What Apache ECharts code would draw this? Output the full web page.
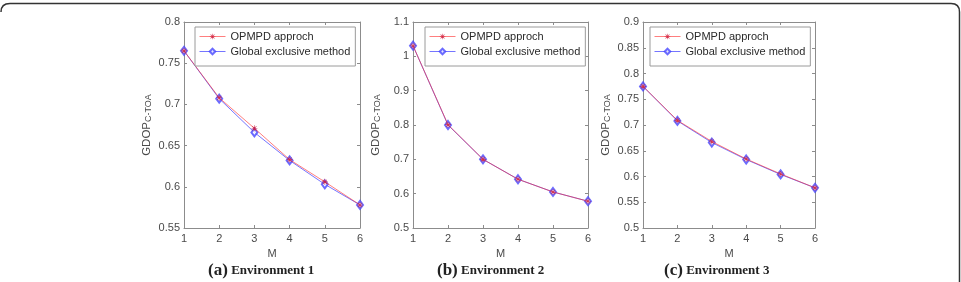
<!DOCTYPE html>
<html>
<head>
<meta charset="utf-8">
<script src="https://cdn.jsdelivr.net/npm/echarts@6/dist/echarts.min.js"></script>
<style>
  html, body { margin: 0; padding: 0; background: #fff; }
  #main { width: 961px; height: 282px; }
</style>
</head>
<body>
<div id="main"></div>
<script>
// M values (x axis)
const mValues = [1, 2, 3, 4, 5, 6];

// environment 1
const env1Opmpd = [0.765, 0.708, 0.671, 0.633, 0.606, 0.578];
const env1Global = [0.765, 0.707, 0.666, 0.632, 0.603, 0.578];
// environment 2
const env2Opmpd = [1.031, 0.801, 0.700, 0.642, 0.605, 0.578];
const env2Global = [1.031, 0.800, 0.700, 0.642, 0.605, 0.578];
// environment 3
const env3Opmpd = [0.775, 0.709, 0.668, 0.634, 0.605, 0.578];
const env3Global = [0.775, 0.708, 0.666, 0.633, 0.604, 0.578];

const seriesNames = ['OPMPD approch', 'Global exclusive method'];
const captions = ['(a)', '(b)', '(c)'];
const envNames = ['Environment 1', 'Environment 2', 'Environment 3'];

// y ranges for each panel
const yMin = [0.55, 0.5, 0.5];
const yMax = [0.8, 1.1, 0.9];
const yStep = [0.05, 0.1, 0.05];

const panels = [
  { left: 184, width: 176, legendLeft: 195, capX: 265 },
  { left: 413, width: 175, legendLeft: 425, capX: 494 },
  { left: 643, width: 172, legendLeft: 650, capX: 721 }
];
const opmpd = [env1Opmpd, env2Opmpd, env3Opmpd];
const globalEx = [env1Global, env2Global, env3Global];

const font = '"Liberation Sans", Arial, sans-serif';
const serif = '"Liberation Serif", "Times New Roman", serif';
const axisColor = '#8c8c8c';
const labelColor = '#4a4a4a';
const asterisk = 'path://M4.5,0h1v10h-1z M0,4.5h10v1h-10z M1.2,1.9l0.7,-0.7l7,7l-0.7,0.7z M8.1,1.2l0.7,0.7l-7,7l-0.7,-0.7z';

function fmt(v) { return String(parseFloat(v.toFixed(2))); }

const grid = [], xAxis = [], yAxis = [], series = [], legend = [], graphic = [];

panels.forEach(function (p, i) {
  grid.push({ left: p.left, top: 22, width: p.width, height: 206 });

  const tick = { show: true, inside: true, length: 3, lineStyle: { color: axisColor } };
  const line = { show: true, lineStyle: { color: axisColor, width: 1 } };

  xAxis.push({
    type: 'value', gridIndex: i, min: 1, max: 6, interval: 1,
    axisLine: line, axisTick: tick, splitLine: { show: false },
    axisLabel: { margin: 5, color: labelColor, fontSize: 11, fontFamily: font },
    name: 'M', nameLocation: 'middle', nameGap: 19,
    nameTextStyle: { color: labelColor, fontSize: 11, fontFamily: font }
  });
  xAxis.push({
    type: 'value', gridIndex: i, min: 1, max: 6, interval: 1, position: 'top',
    axisLine: line, axisTick: tick, splitLine: { show: false }, axisLabel: { show: false }
  });

  yAxis.push({
    type: 'value', gridIndex: i, min: yMin[i], max: yMax[i], interval: yStep[i],
    axisLine: line, axisTick: tick, splitLine: { show: false },
    axisLabel: { margin: 4, color: labelColor, fontSize: 11, fontFamily: font, formatter: fmt },
    name: '{a|GDOP}{b|C-TOA}', nameLocation: 'middle', nameRotate: 90, nameGap: 31,
    nameTextStyle: {
      color: labelColor, fontFamily: font,
      rich: {
        a: { fontSize: 11.5, fontFamily: font, color: labelColor, verticalAlign: 'top', lineHeight: 12 },
        b: { fontSize: 9, fontFamily: font, color: labelColor, verticalAlign: 'bottom', lineHeight: 10, padding: [6, 0, 0, 0] }
      }
    }
  });
  yAxis.push({
    type: 'value', gridIndex: i, min: yMin[i], max: yMax[i], interval: yStep[i], position: 'right',
    axisLine: line, axisTick: tick, splitLine: { show: false }, axisLabel: { show: false }
  });

  series.push({
    name: seriesNames[1], type: 'line', xAxisIndex: i * 2, yAxisIndex: i * 2,
    data: mValues.map(function (m, k) { return [m, globalEx[i][k]]; }),
    symbol: 'emptyDiamond', symbolSize: [6, 8], showSymbol: true,
    lineStyle: { color: '#3b3bff', width: 1, opacity: 0.7 },
    itemStyle: { color: '#4646ff', borderColor: '#4646ff', borderWidth: 1, opacity: 0.8 },
    emphasis: { disabled: true }, animation: false, z: 2
  });
  series.push({
    name: seriesNames[0], type: 'line', xAxisIndex: i * 2, yAxisIndex: i * 2,
    data: mValues.map(function (m, k) { return [m, opmpd[i][k]]; }),
    symbol: asterisk, symbolSize: 6, showSymbol: true,
    lineStyle: { color: '#ff2a2a', width: 1, opacity: 0.6 },
    itemStyle: { color: '#cc1a3a', opacity: 0.85 },
    emphasis: { disabled: true }, animation: false, z: 3
  });

  legend.push({
    data: seriesNames, orient: 'vertical', left: p.legendLeft, top: 27,
    backgroundColor: '#fff', borderColor: '#9a9a9a', borderWidth: 1,
    padding: [4, 5, 9, 4], itemGap: 4, itemWidth: 26, itemHeight: 7,
    lineStyle: { width: 1 },
    itemStyle: { borderWidth: 1 },
    textStyle: { fontSize: 11, color: '#2a2a2a', fontFamily: font },
    selectedMode: false
  });

  graphic.push({
    type: 'text', left: p.capX - 57, top: 262,
    style: {
      text: '{p|' + captions[i] + '} {e|' + envNames[i] + '}',
      rich: {
        p: { fontSize: 17, fontWeight: 'bold', fontFamily: serif, fill: '#222' },
        e: { fontSize: 13, fontWeight: 'bold', fontFamily: serif, fill: '#222' }
      }
    }
  });
});

// outer frame of the figure
const frameStyle = { fill: 'none', stroke: '#333', lineWidth: 1.5 };
graphic.push({
  type: 'polyline', silent: true,
  shape: { points: [[10, 3.5], [951, 3.5]] }, style: frameStyle
});
graphic.push({
  type: 'polyline', silent: true,
  shape: { points: [[959.5, 12], [959.5, 282]] }, style: frameStyle
});
graphic.push({
  type: 'bezierCurve', silent: true,
  shape: { x1: 1, y1: 12, cpx1: 1, cpy1: 3.5, x2: 10, y2: 3.5 }, style: frameStyle
});
graphic.push({
  type: 'bezierCurve', silent: true,
  shape: { x1: 951, y1: 3.5, cpx1: 959.5, cpy1: 3.5, x2: 959.5, y2: 12 }, style: frameStyle
});

const chart = echarts.init(document.getElementById('main'), null, { renderer: 'canvas' });
chart.setOption({
  backgroundColor: '#fff',
  animation: false,
  grid: grid,
  xAxis: xAxis,
  yAxis: yAxis,
  legend: legend,
  series: series,
  graphic: graphic
});
</script>
</body>
</html>
